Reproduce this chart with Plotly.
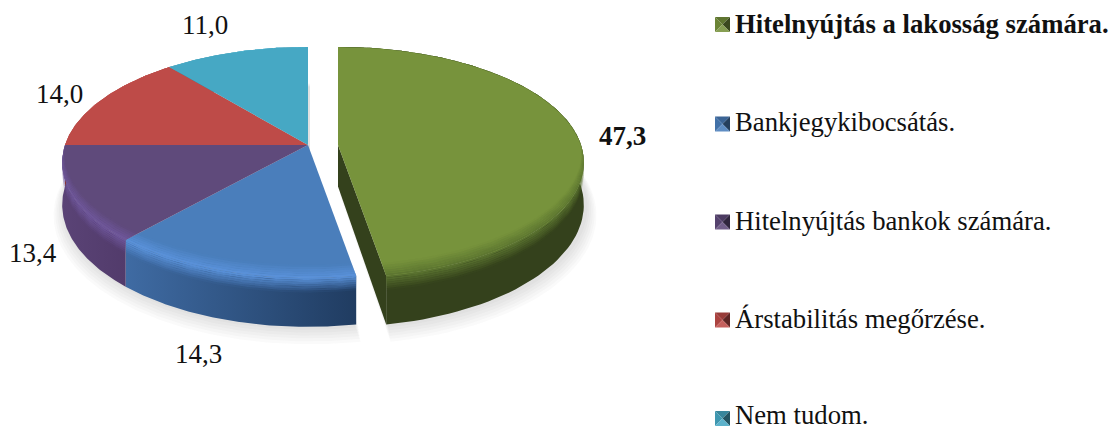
import numpy as np
import plotly.graph_objects as go

categories = ["Hitelnyújtás a lakosság számára.", "Bankjegykibocsátás.",
              "Hitelnyújtás bankok számára.", "Árstabilitás megőrzése.", "Nem tudom."]
values = [47.3, 14.3, 13.4, 14.0, 11.0]
top_colors = ["#77933c", "#4a7ebb", "#5f4a7b", "#be4b48", "#46a8c4"]
rim_colors = ["#5c7530", "#5a92da", "#6f579c", "#d0605c", "#5abcd8"]
side_left = ["#34411c", "#3f6ba3", "#5a4376", "#8a3533", "#33788c"]
side_right = ["#34411c", "#203c61", "#523b6b", "#8a3533", "#33788c"]

# view geometry, in page pixels
CX, CY, R, V, P, D = 308.0, 145.0, 243.0, 112.9, 0.151, 41.5
EXPLODE = [30.0, 0, 0, 0, 0]
LABEL_POS = [(622, 136), (198, 354), (33, 253), (59, 94), (205, 25)]
LEGEND_Y = [24, 122, 221, 319, 415]
KEY_Y = [24.5, 124, 222, 320, 418.5]
FONT = "Liberation Serif"
LABEL_SIZE = 27
LEGEND_SIZE = 26.7

def proj(theta, cx, r=1.0, d=0.0):
    s = -np.cos(theta)
    w = 1 / (1 - P * r * s)
    return cx + R * r * np.sin(theta) * w, CY + V * r * s * w + D * d * w

def poly(fig, x, y, color=None, gradient=None):
    kw = dict(x=list(x), y=list(y), mode="lines", line=dict(width=0), fill="toself",
              hoverinfo="skip", showlegend=False)
    if gradient:
        kw["fillgradient"] = gradient
        kw["fillcolor"] = "rgba(0,0,0,0)"
    else:
        kw["fillcolor"] = color
    fig.add_trace(go.Scatter(**kw))

def rgb(h):
    return tuple(int(h[i:i + 2], 16) for i in (1, 3, 5))

def mix(h, f):
    c = rgb(h)
    if f <= 1:
        c = [v * f for v in c]
    else:
        c = [v + (255 - v) * (f - 1) for v in c]
    return "rgb(%d,%d,%d)" % tuple(c)

fig = go.Figure()
total = sum(values)
edges = np.cumsum([0] + values) / total * 2 * np.pi
arcs = [np.linspace(edges[i], edges[i + 1], 90) for i in range(len(values))]
centers = [CX + e for e in EXPLODE]

# soft shadow under the pie
for k in range(6, 0, -1):
    for i, th in enumerate(arcs):
        r = 1 + 0.007 * k
        ax, ay = proj(th, centers[i] + 2, r, 1 + 0.035 * k)
        bx, by = proj(np.array([0.0]), centers[i] + 2, 0, 1 + 0.035 * k)
        poly(fig, np.r_[bx, ax], np.r_[by, ay], "rgba(60,60,60,0.028)")

# side walls with their bevel
for i, th in enumerate(arcs):
    c = centers[i]
    tx, ty = proj(th, c)
    bx, by = proj(th, c, 1, 1)
    if i == 0:
        a0x, a0y = proj(np.array([0.0]), c, 0)
        a1x, a1y = proj(np.array([0.0]), c, 0, 1)
        poly(fig, [a0x[0], tx[-1], bx[-1], a1x[0]], [a0y[0], ty[-1], by[-1], a1y[0]], side_left[0])
    grad = dict(type="horizontal", start=float(min(tx.min(), bx.min())), stop=float(max(tx.max(), bx.max())),
                colorscale=[[0, side_left[i]], [1, side_right[i]]])
    poly(fig, np.r_[tx, bx[::-1]], np.r_[ty, by[::-1]], gradient=grad)
    n = 7
    cr = rgb(rim_colors[i])
    for k in range(n):
        d0, d1 = 0.3 * k / n, 0.3 * (k + 1) / n
        ux, uy = proj(th, c, 1, d0)
        lx, ly = proj(th, c, 1, d1)
        poly(fig, np.r_[ux, lx[::-1]], np.r_[uy, ly[::-1]],
             "rgba(%d,%d,%d,%.3f)" % (*cr, 1 - (k + 0.5) / n))

# top faces with inner rim
for i, th in enumerate(arcs):
    c = centers[i]
    tx, ty = proj(th, c)
    ax, ay = proj(np.array([0.0]), c, 0)
    poly(fig, np.r_[ax, tx], np.r_[ay, ty], top_colors[i])
    s = np.clip(-np.cos(th), 0, 1)
    cr = rgb(rim_colors[i])
    n = 6
    for k in range(n):
        r0 = 1 - 0.085 * s * (1 - k / n)
        r1 = 1 - 0.085 * s * (1 - (k + 1) / n)
        ix = []; iy = []
        ox = []; oy = []
        for t, a, b in zip(th, r0, r1):
            p = proj(t, c, a); q = proj(t, c, b)
            ix.append(p[0]); iy.append(p[1]); ox.append(q[0]); oy.append(q[1])
        poly(fig, ix + ox[::-1], iy + oy[::-1],
             "rgba(%d,%d,%d,%.3f)" % (*cr, (k + 0.5) / n))

# legend keys
annotations = []
for i, name in enumerate(categories):
    y = KEY_Y[i]
    x0, x1, y0, y1 = 715.0, 730.0, y - 7.5, y + 7.5
    mx, my = (x0 + x1) / 2, (y0 + y1) / 2
    col = top_colors[i]
    poly(fig, [x0, x1, mx], [y0, y0, my], mix(col, 0.8))
    poly(fig, [x0, x0, mx], [y0, y1, my], mix(col, 0.9))
    poly(fig, [x1, x1, mx], [y0, y1, my], mix(col, 0.5))
    poly(fig, [x0, x1, mx], [y1, y1, my], mix(col, 1.12))
    text = "<b>%s</b>" % name if i == 0 else name
    annotations.append(dict(x=733, y=LEGEND_Y[i], text=text, xanchor="left", yanchor="middle", showarrow=False,
                            font=dict(family=FONT, size=LEGEND_SIZE, color="#111111")))

# data labels
for i, v in enumerate(values):
    t = ("%.1f" % v).replace(".", ",")
    if i == 0:
        t = "<b>%s</b>" % t
    annotations.append(dict(x=LABEL_POS[i][0], y=LABEL_POS[i][1], text=t, showarrow=False,
                            xanchor="center", yanchor="middle",
                            font=dict(family=FONT, size=LABEL_SIZE, color="#111111")))

fig.update_layout(
    width=1111, height=430, margin=dict(l=0, r=0, t=0, b=0),
    paper_bgcolor="white", plot_bgcolor="white", showlegend=False,
    xaxis=dict(range=[0, 1111], visible=False, fixedrange=True),
    yaxis=dict(range=[430, 0], visible=False, fixedrange=True),
    annotations=annotations,
)
fig.write_html("out.html", config={"displayModeBar": False},
               post_script="document.body.style.margin='0';")
